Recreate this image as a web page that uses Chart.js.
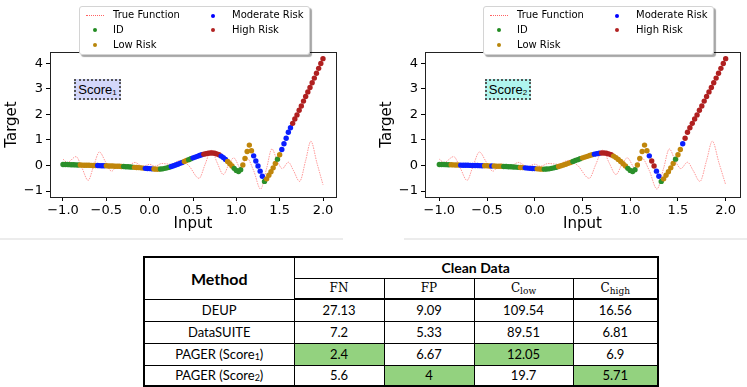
<!DOCTYPE html>
<html>
<head>
<meta charset="utf-8">
<script src="https://cdn.jsdelivr.net/npm/chart.js@4.4.0/dist/chart.umd.min.js"></script>
<style>
  body { margin: 0; background: #fff; }
  #page { position: relative; width: 747px; height: 387px; overflow: hidden; font-family: "DejaVu Sans", sans-serif; }
  canvas { position: absolute; top: 0; }
  #c1 { left: 0; }
  #c2 { left: 375px; }
  .sep { position: absolute; top: 238px; height: 2px; background: #ececec; }
  .legend { position: absolute; top: 6px; width: 229px; height: 47px; background: #fff; border: 1px solid #d4d4d4;
            border-radius: 3px; box-shadow: 2px 2px 1px rgba(0,0,0,0.35); font-size: 10px; color: #000; }
  .legend .tx { position: absolute; line-height: 12px; white-space: nowrap; }
  .legend .dot { position: absolute; width: 4px; height: 4px; border-radius: 50%; }
  .legend .ln { position: absolute; width: 18px; height: 0; border-top: 1px dotted rgba(255,60,60,0.8); }
  .score { position: absolute; top: 79px; height: 17px; border: 2px dotted #555; font-family: "Liberation Sans", Arial, sans-serif;
           font-size: 13px; line-height: 17px; text-align: center; color: #000; }
  .score sub { font-size: 8px; vertical-align: -1px; }
  #tbl { position: absolute; left: 143px; top: 256px; border-collapse: collapse; border: 2px solid #000;
         font-family: Lato, sans-serif; font-size: 13px; color: #000; table-layout: fixed; }
  #tbl td, #tbl th { border: 1px solid #000; padding: 0; text-align: center; vertical-align: middle; }
  #tbl th.m { font-size: 16px; font-weight: bold; }
  #tbl th.cd { font-size: 14px; font-weight: bold; }
  #tbl .sf { font-family: "DejaVu Serif", "Liberation Serif", serif; font-weight: normal; font-size: 12px; }
  #tbl .sf sub { font-size: 9px; vertical-align: -2px; }
  #tbl tr.hd2 th { border-bottom: 2px solid #000; }
  #tbl td.g { background: #93d27f; }
  #tbl td sub { font-size: 9px; vertical-align: -1px; }
</style>
</head>
<body>
<div id="page">
  <canvas id="c1" width="370" height="235"></canvas>
  <canvas id="c2" width="372" height="235"></canvas>

  <div class="sep" style="left:0;width:343px"></div>
  <div class="sep" style="left:404px;width:343px"></div>

  <div class="legend" style="left:79px">
    <div class="ln" style="left:6px;top:8px"></div><div class="tx" style="left:33px;top:2px">True Function</div>
    <div class="dot" style="left:13px;top:21px;background:#228b22"></div><div class="tx" style="left:33px;top:17px">ID</div>
    <div class="dot" style="left:13px;top:36px;background:#b8860b"></div><div class="tx" style="left:33px;top:32px">Low Risk</div>
    <div class="dot" style="left:131px;top:7px;background:#0000ff"></div><div class="tx" style="left:152px;top:2px">Moderate Risk</div>
    <div class="dot" style="left:131px;top:21px;background:#b22222"></div><div class="tx" style="left:152px;top:17px">High Risk</div>
  </div>
  <div class="legend" style="left:483px">
    <div class="ln" style="left:6px;top:8px"></div><div class="tx" style="left:33px;top:2px">True Function</div>
    <div class="dot" style="left:13px;top:21px;background:#228b22"></div><div class="tx" style="left:33px;top:17px">ID</div>
    <div class="dot" style="left:13px;top:36px;background:#b8860b"></div><div class="tx" style="left:33px;top:32px">Low Risk</div>
    <div class="dot" style="left:131px;top:7px;background:#0000ff"></div><div class="tx" style="left:152px;top:2px">Moderate Risk</div>
    <div class="dot" style="left:131px;top:21px;background:#b22222"></div><div class="tx" style="left:152px;top:17px">High Risk</div>
  </div>

  <div class="score" style="left:74px;width:43px;background:#d3d7fa">Score<sub>1</sub></div>
  <div class="score" style="left:485px;width:42px;background:#b0f5ee">Score<sub>2</sub></div>

  <table id="tbl">
    <colgroup><col style="width:150px"><col style="width:90px"><col style="width:90px"><col style="width:99px"><col style="width:85px"></colgroup>
    <tr style="height:21px"><th class="m" rowspan="2">Method</th><th class="cd" colspan="4">Clean Data</th></tr>
    <tr class="hd2" style="height:21px"><th class="sf">FN</th><th class="sf">FP</th><th class="sf">C<sub>low</sub></th><th class="sf">C<sub>high</sub></th></tr>
    <tr style="height:22px"><td>DEUP</td><td>27.13</td><td>9.09</td><td>109.54</td><td>16.56</td></tr>
    <tr style="height:22px"><td>DataSUITE</td><td>7.2</td><td>5.33</td><td>89.51</td><td>6.81</td></tr>
    <tr style="height:22px"><td>PAGER (Score<sub>1</sub>)</td><td class="g">2.4</td><td>6.67</td><td class="g">12.05</td><td>6.9</td></tr>
    <tr style="height:21px"><td>PAGER (Score<sub>2</sub>)</td><td>5.6</td><td class="g">4</td><td>19.7</td><td class="g">5.71</td></tr>
  </table>
</div>

<script>
// ---------- data ----------
const inputX = [
  -1.000, -0.975, -0.950, -0.925, -0.900, -0.875, -0.850, -0.825, -0.800, -0.775,
  -0.750, -0.725, -0.700, -0.675, -0.650, -0.625, -0.600, -0.575, -0.550, -0.525,
  -0.500, -0.475, -0.450, -0.425, -0.400, -0.375, -0.350, -0.325, -0.300, -0.275,
  -0.250, -0.225, -0.200, -0.175, -0.150, -0.125, -0.100, -0.075, -0.050, -0.025,
   0.000,  0.025,  0.050,  0.075,  0.100,  0.125,  0.150,  0.175,  0.200,  0.225,
   0.250,  0.275,  0.300,  0.325,  0.350,  0.375,  0.400,  0.425,  0.450,  0.475,
   0.500,  0.525,  0.550,  0.575,  0.600,  0.625,  0.650,  0.675,  0.700,  0.725,
   0.750,  0.775,  0.800,  0.825,  0.850,  0.875,  0.900,  0.925,  0.950,  0.975,
   1.000,  1.025,  1.050,  1.075,  1.100,  1.125,  1.150,  1.175,  1.200,  1.225,
   1.250,  1.275,  1.300,  1.325,  1.350,  1.375,  1.400,  1.425,  1.450,  1.475,
   1.500,  1.525,  1.550,  1.575,  1.600,  1.625,  1.650,  1.675,  1.700,  1.725,
   1.750,  1.775,  1.800,  1.825,  1.850,  1.875,  1.900,  1.925,  1.950,  1.975,
   2.000
];

// model prediction (same curve in both panels)
const predY = [
  0.04, 0.04, 0.04, 0.035, 0.03, 0.03, 0.025, 0.02, 0.02, 0.015,
  0.01, 0.01, 0.01, 0.005, 0.0, 0.0, 0.0, -0.005, -0.01, -0.01,
  -0.01, -0.015, -0.02, -0.02, -0.025, -0.03, -0.03, -0.035, -0.04, -0.045,
  -0.05, -0.055, -0.06, -0.07, -0.075, -0.08, -0.09, -0.10, -0.11, -0.115,
  -0.12, -0.13, -0.135, -0.14, -0.14, -0.135, -0.13, -0.11, -0.09, -0.065,
  -0.04, -0.01, 0.02, 0.05, 0.085, 0.12, 0.16, 0.195, 0.23, 0.265,
  0.30, 0.33, 0.36, 0.39, 0.42, 0.445, 0.465, 0.48, 0.49, 0.49,
  0.48, 0.455, 0.42, 0.37, 0.31, 0.24, 0.16, 0.07, -0.02, -0.11,
  -0.19, -0.23, -0.16, 0.02, 0.28, 0.55, 0.80, 0.58, 0.38, 0.18,
  -0.02, -0.22, -0.42, -0.62, -0.52, -0.38, -0.24, -0.09, 0.08, 0.25,
  0.42, 0.63, 0.85, 1.07, 1.30, 1.48, 1.65, 1.82, 1.98, 2.16,
  2.33, 2.52, 2.70, 2.88, 3.05, 3.24, 3.42, 3.61, 3.80, 3.99,
  4.18
];

// risk group of each point: I = ID, L = Low, M = Moderate, H = High
const score1Risk = ("IIIIIIII LLLLLLLL MMMM LLLLLLLL IIIII LLLLL MMMM LLL IIIII MMMMMM LL II MMMMM " +
  "HHHHHHHH MMM LLL IIII LLLLL MMMMM I LLLLL I L MMMMM HHHHHHHHHHHHHHH").replace(/ /g, "").split("");
const score2Risk = ("IIIII LLLL MMMMMMMMMM LLL M LLLL IIIIIII LL MMMMM LLL IIIIII LLLLLL IIII LLLLL MMM " +
  "HHHHH LLLLLL IIII LLLLL M HH MM I LLLLL I LL M HHHHHHHHHHHHHHHHHH").replace(/ /g, "").split("");

// true function, sampled at its turning points
const trueX = [-1.0, -0.95, -0.85, -0.78, -0.71, -0.645, -0.58, -0.51, -0.44, -0.36, -0.28, -0.17, -0.08, 0.0, 0.06,
  0.14, 0.25, 0.35, 0.45, 0.57, 0.64, 0.71, 0.78, 0.85, 0.92, 0.97, 1.05, 1.12, 1.2, 1.28, 1.35, 1.41, 1.47,
  1.53, 1.6, 1.66, 1.73, 1.8, 1.86, 1.93, 2.0];
const trueY = [0.25, 0.12, 0.35, -0.1, -0.58, 0.0, 0.53, 0.15, -0.22, 0.05, -0.08, 0.12, -0.04, 0.05, -0.03,
  0.08, 0.05, 0.2, 0.0, -0.5, 0.05, 0.6, 0.1, -0.35, 0.1, 0.3, -0.1, 0.3, -0.2, -0.92, -0.1, 0.65, 0.2,
  -0.12, 0.13, -0.2, -0.62, 0.2, 0.95, 0.1, -0.75];

const xTicks = [-1.0, -0.5, 0.0, 0.5, 1.0, 1.5, 2.0];
const yTicks = [-1, 0, 1, 2, 3, 4];

const riskColors = { I: "#2a8f2a", L: "#c0860b", M: "#0a1eff", H: "#b02020" };

// ---------- chart ----------
const fmt = (v, d) => (v < 0 ? "\u2212" : "") + Math.abs(v).toFixed(d);

const framePlugin = {
  id: "frame",
  afterDatasetsDraw(chart) {
    const a = chart.chartArea, ctx = chart.ctx;
    ctx.save();
    ctx.strokeStyle = "#222";
    ctx.lineWidth = 1;
    ctx.strokeRect(Math.round(a.left) + 0.5, Math.round(a.top) + 0.5, Math.round(a.right - a.left), Math.round(a.bottom - a.top));
    ctx.restore();
  }
};

function makeChart(id, risk, padRight) {
  const ctx = document.getElementById(id).getContext("2d");
  return new Chart(ctx, {
    type: "scatter",
    data: {
      datasets: [
        {
          label: "Prediction",
          data: inputX.map((x, i) => ({ x, y: predY[i] })),
          pointRadius: 2.7,
          pointBorderWidth: 0,
          pointBackgroundColor: risk.map(r => riskColors[r]),
          showLine: false,
          order: 1
        },
        {
          label: "True Function",
          data: trueX.map((x, i) => ({ x, y: trueY[i] })),
          showLine: true,
          cubicInterpolationMode: "monotone",
          borderColor: "rgba(255,70,70,0.55)",
          borderWidth: 1,
          borderDash: [1.5, 1],
          pointRadius: 0,
          order: 2
        }
      ]
    },
    options: {
      responsive: false,
      animation: false,
      layout: { padding: { top: 52, right: padRight, left: 0, bottom: 0 } },
      plugins: { legend: { display: false }, tooltip: { enabled: false } },
      scales: {
        x: {
          type: "linear", min: -1.15, max: 2.15,
          afterBuildTicks: s => { s.ticks = xTicks.map(v => ({ value: v })); },
          afterFit: s => { s.height = 38; },
          ticks: { callback: v => fmt(v, 1), color: "#000",
                   font: { family: "DejaVu Sans", size: 13 }, padding: 2, maxRotation: 0 },
          grid: { drawOnChartArea: false, tickLength: 4, color: "#000" },
          border: { color: "#222" },
          title: { display: true, text: "Input", color: "#000", font: { family: "DejaVu Sans", size: 15 }, padding: { top: 0, bottom: 2 } }
        },
        y: {
          type: "linear", min: -1.23, max: 4.44,
          afterBuildTicks: s => { s.ticks = yTicks.map(v => ({ value: v })); },
          afterFit: s => { s.width = 50; },
          ticks: { callback: v => fmt(v, 0), color: "#000", font: { family: "DejaVu Sans", size: 13 }, padding: 3 },
          grid: { drawOnChartArea: false, tickLength: 4, color: "#000" },
          border: { color: "#222" },
          title: { display: true, text: "Target", color: "#000", font: { family: "DejaVu Sans", size: 15 }, padding: { top: 3, bottom: 0 } }
        }
      }
    },
    plugins: [framePlugin]
  });
}

makeChart("c1", score1Risk, 34);
makeChart("c2", score2Risk, 7);
</script>
</body>
</html>
